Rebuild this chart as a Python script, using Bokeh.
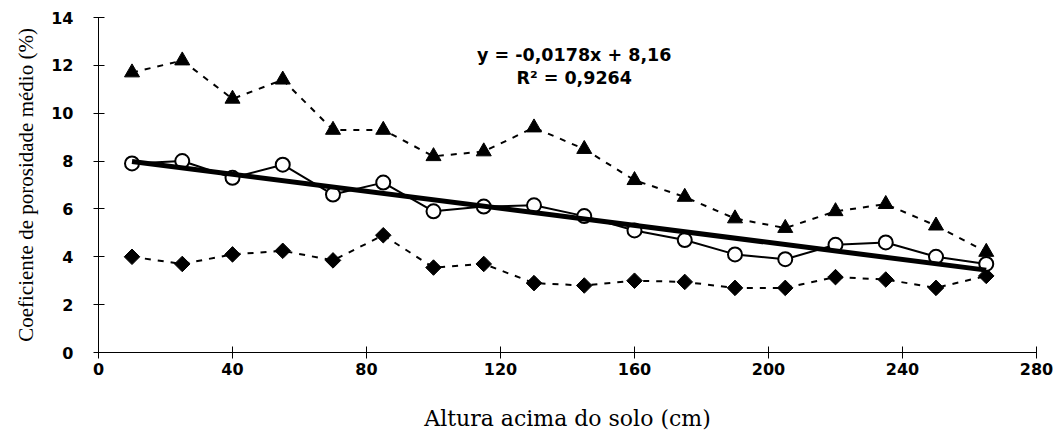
import math
from bokeh.plotting import figure
from bokeh.models import Range1d, FixedTicker, Label
from bokeh.embed import file_html
from bokeh.resources import INLINE

# ---- data ----
altura = [10, 25, 40, 55, 70, 85, 100, 115, 130, 145, 160, 175, 190, 205, 220, 235, 250, 265]
maximo = [11.7, 12.2, 10.6, 11.4, 9.3, 9.3, 8.2, 8.4, 9.4, 8.5, 7.2, 6.5, 5.6, 5.2, 5.9, 6.2, 5.3, 4.2]
medio = [7.9, 8.0, 7.3, 7.85, 6.6, 7.1, 5.9, 6.1, 6.15, 5.7, 5.1, 4.7, 4.1, 3.9, 4.5, 4.6, 4.0, 3.7]
minimo = [4.0, 3.7, 4.1, 4.25, 3.85, 4.9, 3.55, 3.7, 2.9, 2.8, 3.0, 2.95, 2.7, 2.7, 3.15, 3.05, 2.7, 3.2]
slope = -0.0178
intercept = 8.16
eq_text = "y = -0,0178x + 8,16"
r2_text = "R\u00b2 = 0,9264"
x_ticks = [0, 40, 80, 120, 160, 200, 240, 280]
y_ticks = [0, 2, 4, 6, 8, 10, 12, 14]

trend_x = [min(altura), max(altura)]
trend_y = [slope * v + intercept for v in trend_x]

p = figure(width=1058, height=434, x_range=Range1d(0, 280), y_range=Range1d(0, 14),
           output_backend="svg", toolbar_location=None,
           min_border_left=98, min_border_right=22, min_border_top=17, min_border_bottom=82)
p.outline_line_color = None
p.xgrid.visible = False
p.ygrid.visible = False
p.background_fill_color = "white"
p.border_fill_color = "white"

tick_font = "DejaVu Sans"
for ax in (p.xaxis[0], p.yaxis[0]):
    ax.axis_line_color = "black"
    ax.axis_line_width = 1
    ax.major_tick_line_color = "black"
    ax.major_tick_line_width = 1
    ax.minor_tick_line_color = None
    ax.major_label_text_font = tick_font
    ax.major_label_text_font_style = "bold"
    ax.major_label_text_font_size = "16px"
    ax.major_label_text_color = "black"
    ax.axis_label_text_color = "black"
    ax.axis_label_text_font_style = "normal"

p.xaxis.ticker = FixedTicker(ticks=x_ticks)
p.yaxis.ticker = FixedTicker(ticks=y_ticks)
p.xaxis.major_tick_in = 6
p.xaxis.major_tick_out = 6
p.yaxis.major_tick_in = 6
p.yaxis.major_tick_out = 5
p.xaxis.major_label_standoff = 4
p.yaxis.major_label_standoff = 20

p.xaxis.axis_label = "Altura acima do solo (cm)"
p.xaxis.axis_label_text_font = "DejaVu Serif"
p.xaxis.axis_label_text_font_size = "22px"
p.xaxis.axis_label_standoff = 28

p.yaxis.axis_label = "Coeficiente de porosidade médio (%)"
p.yaxis.axis_label_text_font = "Liberation Serif"
p.yaxis.axis_label_text_font_size = "21px"
p.yaxis.axis_label_standoff = 10

# max series (triangles, dashed)
p.line(altura, maximo, line_color="black", line_width=2, line_dash="6 7")
p.scatter(altura, maximo, marker="triangle", size=15, fill_color="black", line_color="black")

# min series (diamonds, dashed)
p.line(altura, minimo, line_color="black", line_width=2, line_dash="6 7")
p.scatter(altura, minimo, marker="square", angle=math.pi / 4, size=11,
          fill_color="black", line_color="black")

# mean series (open circles, solid)
p.line(altura, medio, line_color="black", line_width=2)
p.scatter(altura, medio, marker="circle", size=14, fill_color="white",
          line_color="black", line_width=2)

# trend line
p.line(trend_x, trend_y, line_color="black", line_width=5)

p.add_layout(Label(x=142, y=12.43, text=eq_text, text_align="center", text_baseline="middle",
                   text_font="DejaVu Sans", text_font_style="bold", text_font_size="17.5px",
                   text_color="black"))
p.add_layout(Label(x=142, y=11.47, text=r2_text, text_align="center", text_baseline="middle",
                   text_font="DejaVu Sans", text_font_style="bold", text_font_size="17.5px",
                   text_color="black"))

open("out.html", "w").write(file_html(p, INLINE))
